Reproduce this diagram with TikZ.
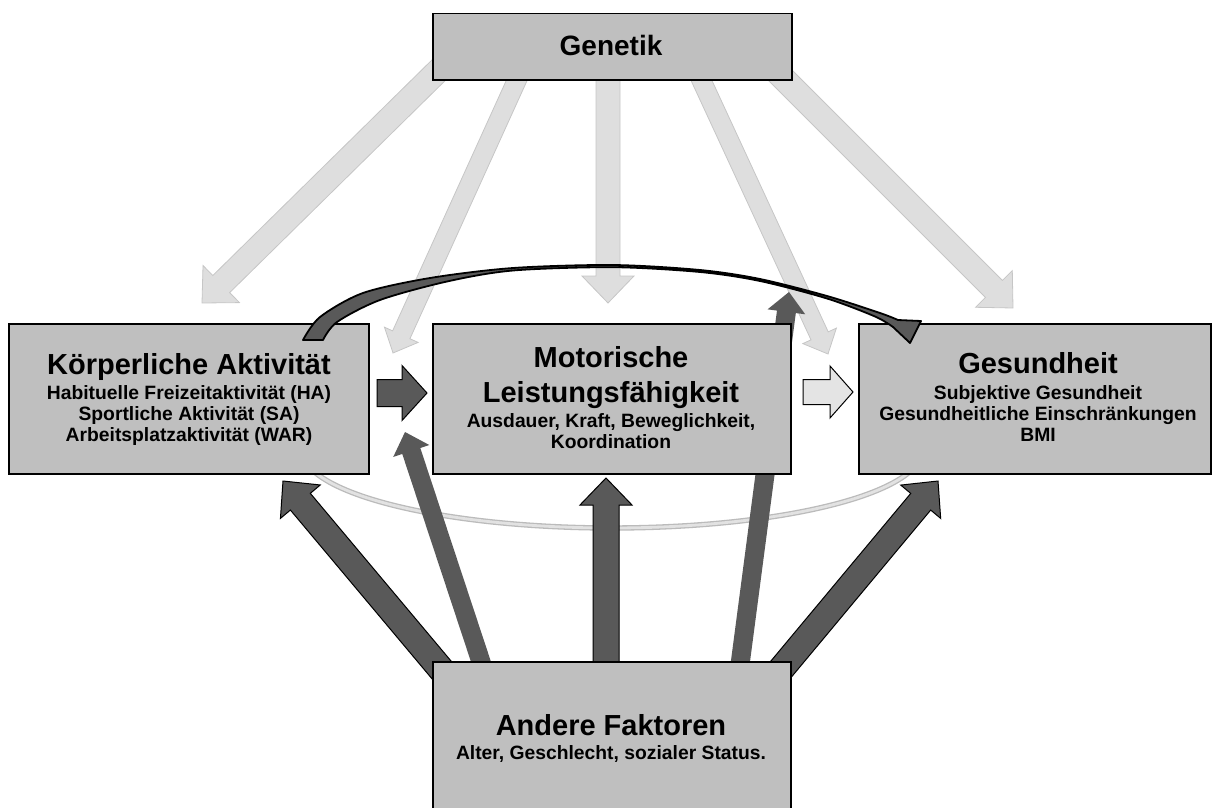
\documentclass[tikz,border=0pt]{standalone}
\usepackage{fontspec}
\setmainfont{Liberation Sans}
\usetikzlibrary{calc}

\definecolor{boxgray}{HTML}{BFBFBF}
\definecolor{darkarrow}{HTML}{595959}
\definecolor{lightarrow}{HTML}{DEDEDE}
\definecolor{lightedge}{HTML}{C6C6C6}
\definecolor{palearrow}{HTML}{E4E4E4}
\definecolor{arcedge}{HTML}{BBBBBB}
\definecolor{arcfill}{HTML}{E2E2E2}

% block arrow: style, start, tip, half shaft width, half head width, head length
\newcommand\blockarrow[6]{%
  \coordinate (ba-base) at ($(#3)!#6!(#2)$);
  \filldraw[#1]
    ($(#2)!#4!90:(#3)$) -- ($(ba-base)!#4!90:(#3)$) -- ($(ba-base)!#5!90:(#3)$)
    -- (#3) -- ($(ba-base)!#5!-90:(#3)$) -- ($(ba-base)!#4!-90:(#3)$)
    -- ($(#2)!#4!-90:(#3)$) -- cycle;
}

\tikzset{
  box/.style={fill=boxgray, draw=black, line width=1.5pt, inner sep=0pt, anchor=north west},
  title/.style={anchor=base, inner sep=0pt, font=\fontsize{29}{34}\selectfont\bfseries},
  sub/.style={anchor=base, inner sep=0pt, font=\fontsize{19.3}{21}\selectfont\bfseries},
  genarrow/.style={fill=lightarrow, draw=lightedge, line width=0.8pt},
  facarrow/.style={fill=darkarrow, draw=black, line width=1pt},
  thinarrow/.style={fill=darkarrow, draw=none},
  palearrowstyle/.style={fill=palearrow, draw=black, line width=1pt},
  darklink/.style={fill=darkarrow, draw=black, line width=1pt},
  ringline/.style={draw=arcedge, line width=1.3pt, double=arcfill, double distance=2.8pt},
}

\begin{document}
\begin{tikzpicture}[x=1pt, y=-1pt]
\useasboundingbox (0,0) rectangle (1215,808);
\clip (0,0) rectangle (1215,808);

% arrow end points
\coordinate (g1s) at (449,60);  \coordinate (g1t) at (202,303);
\coordinate (g2s) at (526,60);  \coordinate (g2t) at (393,353);
\coordinate (g3s) at (608,60);  \coordinate (g3t) at (608,303);
\coordinate (g4s) at (692,60);  \coordinate (g4t) at (828,354);
\coordinate (g5s) at (765,60);  \coordinate (g5t) at (1013,308);

\coordinate (fAs) at (450,680); \coordinate (fAt) at (283,481);
\coordinate (fBs) at (487,680); \coordinate (fBt) at (405,432);
\coordinate (fCs) at (606,680); \coordinate (fCt) at (606,478);
\coordinate (fDs) at (738,680); \coordinate (fDt) at (789,292);
\coordinate (fEs) at (772,680); \coordinate (fEt) at (938,481);

\coordinate (h1s) at (377,393); \coordinate (h1t) at (427,393);
\coordinate (h2s) at (803,392); \coordinate (h2t) at (853,392);

% influences of genetics
\blockarrow{genarrow}{g1s}{g1t}{12pt}{26pt}{27pt}
\blockarrow{genarrow}{g2s}{g2t}{9.5pt}{18.5pt}{20pt}
\blockarrow{genarrow}{g3s}{g3t}{12pt}{26pt}{27pt}
\blockarrow{genarrow}{g4s}{g4t}{9.5pt}{18.5pt}{20pt}
\blockarrow{genarrow}{g5s}{g5t}{12pt}{26pt}{27pt}

% lower ring between activity and health
\draw[ringline] plot[domain=14:166, samples=90] ({612+310*cos(\x)},{450+78*sin(\x)});

% influences of other factors
\blockarrow{facarrow}{fAs}{fAt}{13pt}{26pt}{27pt}
\blockarrow{facarrow}{fCs}{fCt}{13pt}{26pt}{27pt}
\blockarrow{facarrow}{fEs}{fEt}{13pt}{26pt}{27pt}
\blockarrow{thinarrow}{fBs}{fBt}{9.5pt}{19pt}{20pt}
\blockarrow{thinarrow}{fDs}{fDt}{9.5pt}{19pt}{20pt}

% boxes
\node[box, minimum width=359pt, minimum height=66pt] (gen) at (432,13) {};
\node[box, minimum width=360pt, minimum height=150pt] (ka) at (8,323) {};
\node[box, minimum width=358pt, minimum height=150pt] (ml) at (432,323) {};
\node[box, minimum width=352pt, minimum height=150pt] (ges) at (858,323) {};
\node[box, minimum width=358pt, minimum height=180pt] (af) at (432,661) {};

% texts
\node[anchor=base, inner sep=0pt, font=\fontsize{28}{33}\selectfont\bfseries] (genT) at (611,56) {Genetik};

\node[title] (kaT) at (189,374) {Körperliche Aktivität};
\node[sub] (ka1) at (189,399) {Habituelle Freizeitaktivität (HA)};
\node[sub] (ka2) at (189,420) {Sportliche Aktivität (SA)};
\node[sub] (ka3) at (189,441) {Arbeitsplatzaktivität (WAR)};

\node[title] (mlT) at (611,367) {Motorische};
\node[title] (mlU) at (611,402) {Leistungsfähigkeit};
\node[sub] (ml1) at (611,427) {Ausdauer, Kraft, Beweglichkeit,};
\node[sub] (ml2) at (611,448) {Koordination};

\node[title] (gesT) at (1038,373) {Gesundheit};
\node[sub] (ges1) at (1038,399) {Subjektive Gesundheit};
\node[sub] (ges2) at (1038,420) {Gesundheitliche Einschränkungen};
\node[sub] (ges3) at (1038,441) {BMI};

\node[title] (afT) at (611,735) {Andere Faktoren};
\node[sub] (af1) at (611,759) {Alter, Geschlecht, sozialer Status.};

% arrows between the boxes
\blockarrow{darklink}{h1s}{h1t}{13.5pt}{27.5pt}{25pt}
\blockarrow{palearrowstyle}{h2s}{h2t}{12.5pt}{26pt}{23pt}

% curved arrow from activity to health
\filldraw[fill=darkarrow, draw=black, line width=1.8pt, line join=round]
  plot[smooth] coordinates {(303,340) (320,317) (363,293) (430,278) (513,268) (613,265)
                            (700,270) (760,279) (827,296) (880,313) (898,320)}
  -- (921,321) -- (910,343)
  -- plot[smooth] coordinates {(893,327) (875,316.5) (827,298.5) (760,281) (700,272) (613,267.2)
                               (513,270.5) (447,281.5) (380,300) (337,322) (323,340)}
  -- cycle;
\end{tikzpicture}
\end{document}
